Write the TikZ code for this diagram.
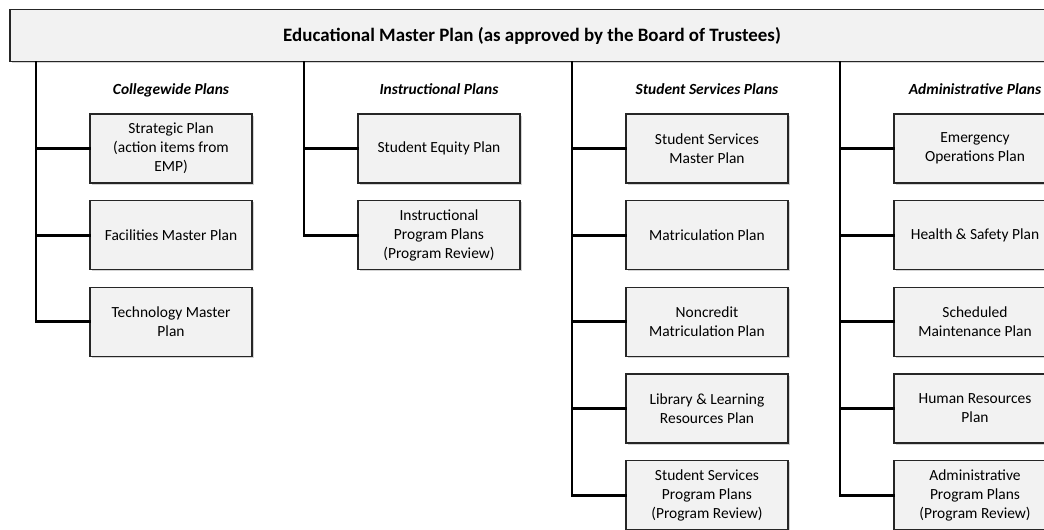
\documentclass[tikz,border=0pt]{standalone}
\usepackage{fontspec}
\setmainfont{Carlito}
\usetikzlibrary{shadows}
\tikzset{
  plan/.style={draw=black!85, fill=black!5, line width=0.8pt, align=center,
    minimum width=121.5pt, minimum height=51.75pt, inner sep=2pt,
    font=\fontsize{11.6}{14.25}\selectfont,
    drop shadow={shadow xshift=1.2pt, shadow yshift=-1.2pt, opacity=0.35}},
  group/.style={anchor=base, font=\fontsize{11.6}{14.25}\selectfont\bfseries\itshape},
  conn/.style={line width=2.2pt, line cap=rect}
}
\begin{document}
\begin{tikzpicture}[x=0.75pt, y=-0.75pt]
    \useasboundingbox (0,0) rectangle (1044,529);
    \clip (0,0) rectangle (1044,529);

    \node[plan, minimum width=783pt, minimum height=39pt, font=\fontsize{14.2}{17}\selectfont\bfseries] (emp) at (532,35.6)
        {Educational Master Plan (as approved by the Board of Trustees)};

    \node[group] (gcw) at (171,94) {Collegewide Plans};
    \node[group] (gin) at (439,94) {Instructional Plans};
    \node[group] (gss) at (707,94) {Student Services Plans};
    \node[group] (gad) at (975,94) {Administrative Plans};

    % collegewide
    \node[plan] (cw1) at (171,148.5) {Strategic Plan\\(action items from\\EMP)};
    \node[plan] (cw2) at (171,235.2) {Facilities Master Plan};
    \node[plan] (cw3) at (171,321.8) {Technology Master\\Plan};

    % instructional
    \node[plan] (in1) at (439,148.5) {Student Equity Plan};
    \node[plan] (in2) at (439,235.2) {Instructional\\Program Plans\\(Program Review)};

    % student services
    \node[plan] (ss1) at (707,148.5) {Student Services\\Master Plan};
    \node[plan] (ss2) at (707,235.2) {Matriculation Plan};
    \node[plan] (ss3) at (707,321.8) {Noncredit\\Matriculation Plan};
    \node[plan] (ss4) at (707,408.5) {Library \& Learning\\Resources Plan};
    \node[plan] (ss5) at (707,495.2) {Student Services\\Program Plans\\(Program Review)};

    % administrative
    \node[plan] (ad1) at (975,148.5) {Emergency\\Operations Plan};
    \node[plan] (ad2) at (975,235.2) {Health \& Safety Plan};
    \node[plan] (ad3) at (975,321.8) {Scheduled\\Maintenance Plan};
    \node[plan] (ad4) at (975,408.5) {Human Resources\\Plan};
    \node[plan] (ad5) at (975,495.2) {Administrative\\Program Plans\\(Program Review)};

    \coordinate (tcw) at (36,62);
    \coordinate (tin) at (304,62);
    \coordinate (tss) at (572,62);
    \coordinate (tad) at (840,62);

    \draw[conn] (tcw) |- (cw3.west);
    \draw[conn] (tcw |- cw1.west) -- (cw1.west);
    \draw[conn] (tcw |- cw2.west) -- (cw2.west);

    \draw[conn] (tin) |- (in2.west);
    \draw[conn] (tin |- in1.west) -- (in1.west);

    \draw[conn] (tss) |- (ss5.west);
    \draw[conn] (tss |- ss1.west) -- (ss1.west);
    \draw[conn] (tss |- ss2.west) -- (ss2.west);
    \draw[conn] (tss |- ss3.west) -- (ss3.west);
    \draw[conn] (tss |- ss4.west) -- (ss4.west);

    \draw[conn] (tad) |- (ad5.west);
    \draw[conn] (tad |- ad1.west) -- (ad1.west);
    \draw[conn] (tad |- ad2.west) -- (ad2.west);
    \draw[conn] (tad |- ad3.west) -- (ad3.west);
    \draw[conn] (tad |- ad4.west) -- (ad4.west);
\end{tikzpicture}
\end{document}
